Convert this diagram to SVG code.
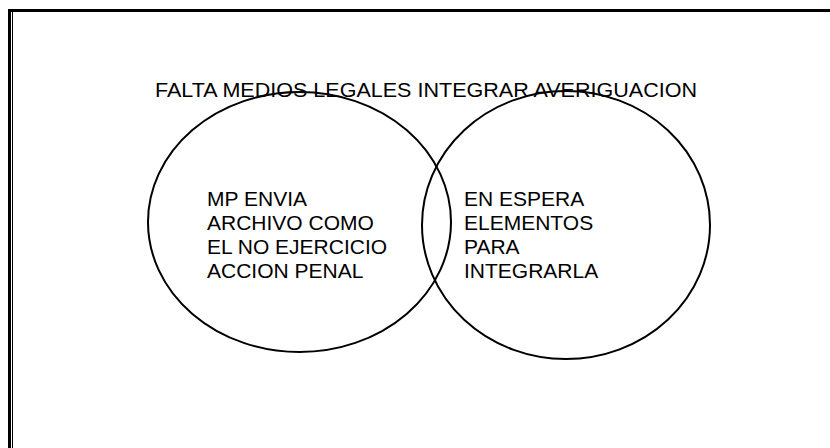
<svg xmlns="http://www.w3.org/2000/svg" width="830" height="448" viewBox="0 0 830 448">
<style>
.t{font-family:"Liberation Sans",Arial,sans-serif;font-size:21px;fill:#000}
.e{fill:none;stroke:#000;stroke-width:2}
</style>
<rect width="830" height="448" fill="#fff"/>
<g id="frame">
<path d="M8 10.5H830M9.5 9V448" stroke="#000" stroke-width="3" fill="none"/>
<path d="M12.5 12V448" stroke="#000" stroke-width="1" fill="none"/>
</g>
<g id="title"><text class="t" x="155" y="97" textLength="542" lengthAdjust="spacingAndGlyphs">FALTA MEDIOS LEGALES INTEGRAR AVERIGUACION</text></g>
<g id="connectors"></g>
<g id="left">
<ellipse class="e" cx="299.5" cy="222" rx="151.5" ry="130"/>
<text class="t" x="207" y="206">MP ENVIA</text>
<text class="t" x="207" y="230">ARCHIVO COMO</text>
<text class="t" x="207" y="254">EL NO EJERCICIO</text>
<text class="t" x="207" y="278">ACCION PENAL</text>
</g>
<g id="right">
<ellipse class="e" cx="566" cy="225" rx="144" ry="134"/>
<text class="t" x="464" y="206">EN ESPERA</text>
<text class="t" x="464" y="230">ELEMENTOS</text>
<text class="t" x="464" y="254">PARA</text>
<text class="t" x="464" y="278">INTEGRARLA</text>
</g>
</svg>
